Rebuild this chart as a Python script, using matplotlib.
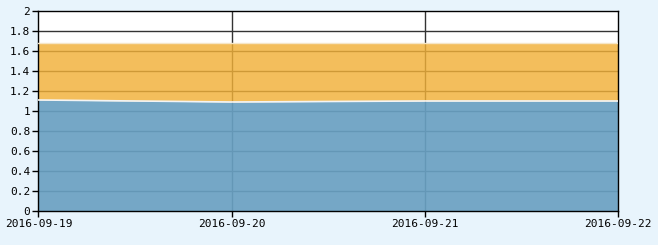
import matplotlib.pyplot as plt
import numpy as np

dates = ["2016-09-19", "2016-09-20", "2016-09-21", "2016-09-22"]
blue_vals = [1.11, 1.09, 1.10, 1.10]
orange_top = [1.68, 1.68, 1.68, 1.68]

x = np.arange(len(dates))

fig = plt.figure(figsize=(6.58, 2.45), dpi=100, facecolor="#E8F4FC")
ax = fig.add_axes([0.0585, 0.139, 0.8805, 0.816])
ax.set_facecolor("white")

# grid under the areas
for y in np.arange(0.2, 2.0, 0.2):
    ax.axhline(y, color="#333333", lw=1, zorder=1)
for xi in x[1:-1]:
    ax.axvline(xi, color="#333333", lw=1, zorder=1)

ax.fill_between(x, blue_vals, orange_top, color="#F1B038", alpha=0.82, lw=0, zorder=2)
ax.plot(x, orange_top, color="#F5E6C8", lw=1, zorder=3)
ax.fill_between(x, 0, blue_vals, color="#69A0C2", alpha=0.92, lw=0, zorder=2)
ax.plot(x, blue_vals, color="#F4F4F4", lw=1.2, zorder=3)

ax.set_xlim(0, 3)
ax.set_ylim(0, 2)
ax.set_yticks(np.arange(0, 2.01, 0.2))
ax.set_yticklabels(["0", "0.2", "0.4", "0.6", "0.8", "1", "1.2", "1.4", "1.6", "1.8", "2"])
ax.set_xticks(x)
ax.set_xticklabels(dates)

for s in ax.spines.values():
    s.set_color("black")
    s.set_linewidth(1)

ax.tick_params(axis="both", length=4, width=1, colors="black", labelsize=8, pad=2)
for lbl in ax.get_xticklabels() + ax.get_yticklabels():
    lbl.set_family("DejaVu Sans Mono")

fig.savefig("out.png", dpi=100, facecolor=fig.get_facecolor())
